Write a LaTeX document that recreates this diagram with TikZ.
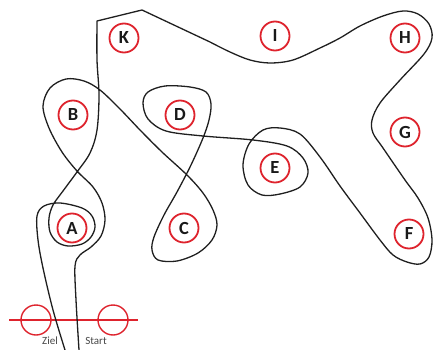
\documentclass[tikz,border=0pt]{standalone}
\usepackage{fontspec}
\setmainfont{Carlito}
\definecolor{stationred}{RGB}{222,35,45}
\definecolor{labelgray}{RGB}{70,70,70}
\begin{document}
\begin{tikzpicture}[x=1pt,y=-1pt,
  route/.style={line width=1.3pt, black!88, line join=round},
  station/.style={circle, draw=stationred, line width=1.8pt, minimum size=29pt, inner sep=0pt,
    font=\fontsize{18.5}{18.5}\selectfont\bfseries, text=black!90},
  markcircle/.style={circle, draw=stationred, line width=1.4pt, minimum size=30pt, inner sep=0pt},
  marktext/.style={font=\fontsize{11}{11}\selectfont, text=labelgray, inner sep=0pt}]
\useasboundingbox (0,0) rectangle (433,350);

% start / finish marks
\node[markcircle] (zielc) at (36,320) {};
\node[markcircle] (startc) at (113,320) {};
\coordinate (ml) at (9,320);
\coordinate (mr) at (138,320);
\draw[stationred, line width=1.4pt] (ml) -- (mr);
\node[marktext] (ziel) at (50,341) {Ziel};
\node[marktext] (start) at (96,341) {Start};

% stations
\node[station] (K) at (124,38) {K};
\node[station] (I) at (275,36) {I};
\node[station] (H) at (405,38) {H};
\node[station] (B) at (73,115) {B};
\node[station] (D) at (180,115) {D};
\node[station] (G) at (405,132) {G};
\node[station] (E) at (275,168) {E};
\node[station] (A) at (72,228) {A};
\node[station] (C) at (184,228) {C};
\node[station] (F) at (409,234) {F};

% the route
\draw[route] plot[smooth, tension=0.55] coordinates {
 (79,350) (76,300) (75,266) (80,255) (91,247) (101,236) (105,220) (102,203) (93,187)
 (77,171) (62,152) (49,128) (43,106) (50,88) (66,79) (84,81) (100,90) (120,109)
 (140,130) (162,152) (187,175) (203,193) (213,210) (217,225) (212,240) (198,253)
 (177,261) (158,260) (152,250) (154,237) (164,215) (177,192) (191,165) (203,138)
 (209,120) (211,104) (206,92) (190,87) (165,86) (148,92) (143,103) (148,119) (166,131)
 (203,136) (253,140) (287,146) (303,158) (308,173) (300,187) (280,194) (262,195)
 (248,185) (243,165) (249,144) (263,130) (280,128) (300,134) (320,157) (340,186)
 (360,213) (380,240) (393,255) (407,262) (420,264) (429,257) (432,240) (428,218)
 (418,198) (405,180) (383,148) (373,133) (372,120) (380,103) (400,80) (424,54)
 (432,38) (429,24) (418,14) (403,11) (383,16) (360,26) (340,38) (320,48) (293,60)
 (270,63) (250,60) (230,52) (210,42)}
 -- (142,10) --
 plot[smooth, tension=0.55] coordinates {
 (97,21) (97,60) (99,95) (97,130) (90,153) (77,172) (63,191) (53,205) (49,218)
 (50,232) (57,242) (68,246) (82,244) (91,237) (95,227) (92,216) (82,208) (60,203)
 (44,206) (37,216) (38,240) (43,268) (53,310) (65,350)};
\end{tikzpicture}
\end{document}
